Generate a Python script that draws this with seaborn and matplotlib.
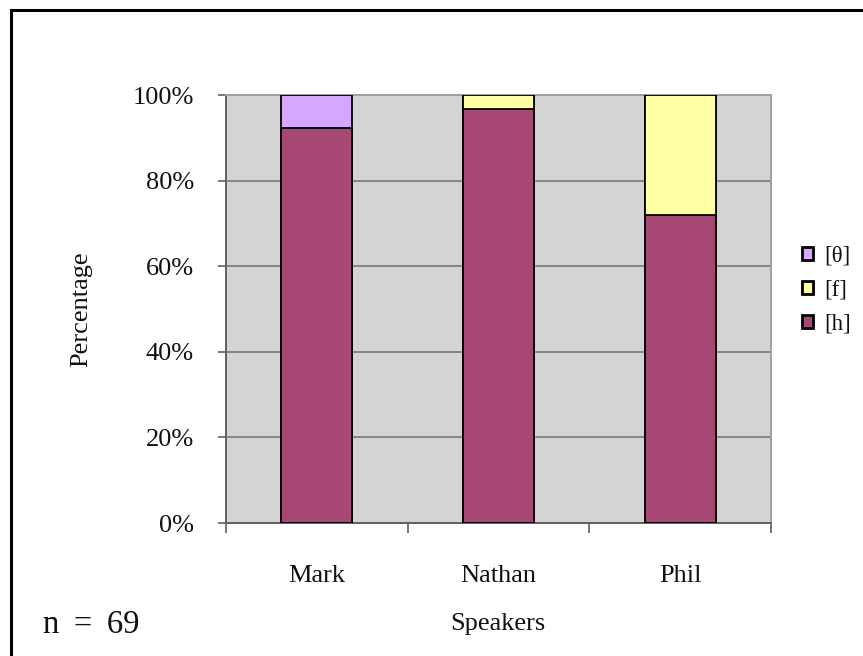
import matplotlib
matplotlib.use('Agg')
import matplotlib.pyplot as plt
import matplotlib.patches as mpatches
import numpy as np
import pandas as pd
import seaborn as sns

# data (percent of tokens per speaker)
speakers = ['Mark', 'Nathan', 'Phil']
h_pct = [92.3, 96.7, 72.0]
f_pct = [0.0, 3.3, 28.0]
theta_pct = [7.7, 0.0, 0.0]
legend_labels = ['[θ]', '[f]', '[h]']
yticks = [0, 20, 40, 60, 80, 100]

col_h = '#A64873'
col_f = '#FFFFA3'
col_theta = '#D4A8FF'

df = pd.DataFrame({'speaker': speakers, 'h': h_pct, 'f': f_pct, 'theta': theta_pct})
df['cum_h'] = df['h']
df['cum_f'] = df['h'] + df['f']
df['cum_theta'] = df['h'] + df['f'] + df['theta']

sns.set_style('white')
plt.rcParams['font.family'] = ['Liberation Serif', 'DejaVu Serif']
plt.rcParams['text.color'] = '#111111'
plt.rcParams['axes.labelcolor'] = '#111111'
plt.rcParams['xtick.labelcolor'] = '#111111'
plt.rcParams['ytick.labelcolor'] = '#111111'

fig = plt.figure(figsize=(8.63, 6.56), dpi=100)
ax = fig.add_axes([226/863, 1-523/656, 545/863, 428/656])
ax.set_facecolor('#D4D4D4')

# stacked bars drawn as cumulative layers, top layer first
bar_kw = dict(width=0.39, edgecolor='black', linewidth=1.3, ax=ax, zorder=3)
sns.barplot(data=df, x='speaker', y='cum_theta', color=col_theta, saturation=1, **bar_kw)
sns.barplot(data=df, x='speaker', y='cum_f', color=col_f, saturation=1, **bar_kw)
sns.barplot(data=df, x='speaker', y='cum_h', color=col_h, saturation=1, **bar_kw)

ax.set_ylim(0, 100)
ax.set_xlim(-0.5, len(speakers) - 0.5)
ax.set_yticks(yticks)
ax.set_yticklabels([f'{v}%' for v in yticks], fontsize=19)
ax.yaxis.grid(True, color='#858585', linewidth=1.4, zorder=1)
ax.set_axisbelow(True)

# major ticks between categories, labels on minor ticks
ax.set_xticks(np.arange(-0.5, len(speakers), 1.0))
ax.set_xticklabels([])
ax.set_xticks(np.arange(len(speakers)), minor=True)
ax.set_xticklabels(speakers, minor=True, fontsize=19)
ax.tick_params(axis='x', which='major', direction='out', length=7, width=1.2, color='#606060', bottom=True)
ax.tick_params(axis='x', which='minor', length=0, pad=30)
ax.tick_params(axis='y', direction='out', length=6, width=1.2, color='#606060', pad=17, left=True)

for side in ['top', 'right']:
    ax.spines[side].set_color('#A0A0A0')
    ax.spines[side].set_linewidth(1.4)
for side in ['left', 'bottom']:
    ax.spines[side].set_color('#606060')
    ax.spines[side].set_linewidth(1.4)

ax.set_xlabel('Speakers', fontsize=19)
ax.set_ylabel('Percentage', fontsize=19)
ax.xaxis.set_label_coords(0.499, -0.21)
ax.yaxis.set_label_coords(-0.245, 0.5)

handles = [mpatches.Patch(facecolor=c, edgecolor='black', linewidth=2.0)
           for c in [col_theta, col_f, col_h]]
fig.legend(handles, legend_labels, loc='center left', bbox_to_anchor=(802/863, 1-290/656),
           frameon=False, fontsize=16.5, handlelength=0.5, handleheight=0.5,
           handletextpad=0.45, labelspacing=0.58, borderpad=0, borderaxespad=0)

fig.text(43/863, 1-625/656, 'n \u2009= \u200969', fontsize=23.5, va='center', ha='left')

# outer frame, running off the right and bottom edges
fig.patches.append(mpatches.Rectangle((11/863, -0.5), 2, 0.5 + 1 - 10/656, transform=fig.transFigure,
                                      fill=False, edgecolor='black', linewidth=2.2))

fig.savefig('out.png', dpi=100)
